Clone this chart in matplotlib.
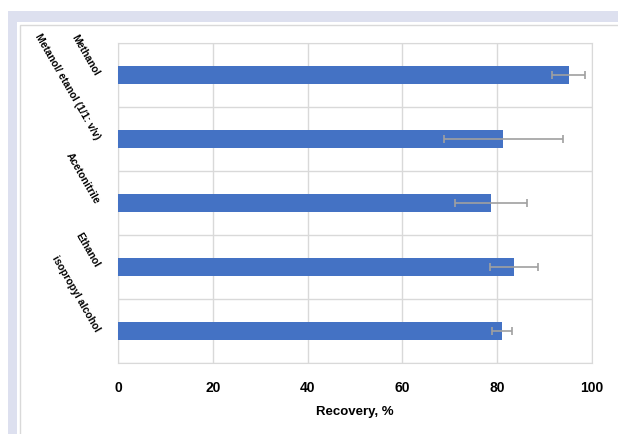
import matplotlib.pyplot as plt
import matplotlib.patches as mpatches
import numpy as np

# ============ Dataset ============
solvents = ['Methanol', 'Metanol/ etanol (1/1: v/v)', 'Acetonitrile', 'Ethanol', 'isopropyl alcohol']
recovery = [95.1, 81.3, 78.7, 83.6, 81.0]
recovery_err = [3.5, 12.5, 7.6, 5.1, 2.1]
x_ticks = [0, 20, 40, 60, 80, 100]

plt.rcParams['font.family'] = ['Liberation Sans', 'DejaVu Sans']

fig = plt.figure(figsize=(6.18, 4.34), dpi=100)
W, H = 618, 434

# ============ Frame around the chart ============
lav = '#dde0ef'
fig.patches.append(mpatches.Rectangle((8 / W, 0), 1 - 8 / W, 1 - 11 / H, transform=fig.transFigure,
                                      facecolor=lav, edgecolor='none', zorder=-10))
fig.patches.append(mpatches.Rectangle((17 / W, 0), 1, 1 - 22 / H, transform=fig.transFigure,
                                      facecolor='white', edgecolor='none', zorder=-9))
fig.patches.append(mpatches.Rectangle((20 / W, -0.1), 1, 1.1 - 25 / H, transform=fig.transFigure,
                                      facecolor='white', edgecolor='#d9d9d9', linewidth=1, zorder=-8))

# ============ Bars ============
ax = fig.add_axes([118 / W, 1 - 363 / H, 474 / W, 320 / H])
ax.set_zorder(1)
y = np.arange(len(solvents))
ax.barh(y, recovery, height=0.28, color='#4472c4', zorder=3,
        xerr=recovery_err, error_kw=dict(ecolor='#a0a0a0', elinewidth=1.2, capsize=3, capthick=1.2, zorder=4))

ax.set_xlim(0, 100)
ax.set_ylim(len(solvents) - 0.5, -0.5)
ax.set_xticks(x_ticks)
ax.set_xticklabels([str(t) for t in x_ticks], fontsize=10, fontweight='bold')
ax.set_yticks(y)
ax.set_yticklabels(solvents, rotation=-60, ha='right', va='center', rotation_mode='anchor',
                   fontsize=7.5, fontweight='bold')
ax.set_yticks(np.arange(len(solvents) + 1) - 0.5, minor=True)
ax.tick_params(axis='both', which='both', length=0)
ax.tick_params(axis='x', pad=13)
ax.tick_params(axis='y', pad=15)

# ============ Grid ============
ax.grid(axis='x', which='major', color='#d9d9d9', linewidth=1, zorder=0)
ax.grid(axis='y', which='minor', color='#d9d9d9', linewidth=1, zorder=0)
for s in ax.spines.values():
    s.set_color('#d9d9d9')

ax.set_xlabel('Recovery, %', fontsize=9.5, fontweight='bold', labelpad=8)

plt.savefig('out.png', dpi=100)
